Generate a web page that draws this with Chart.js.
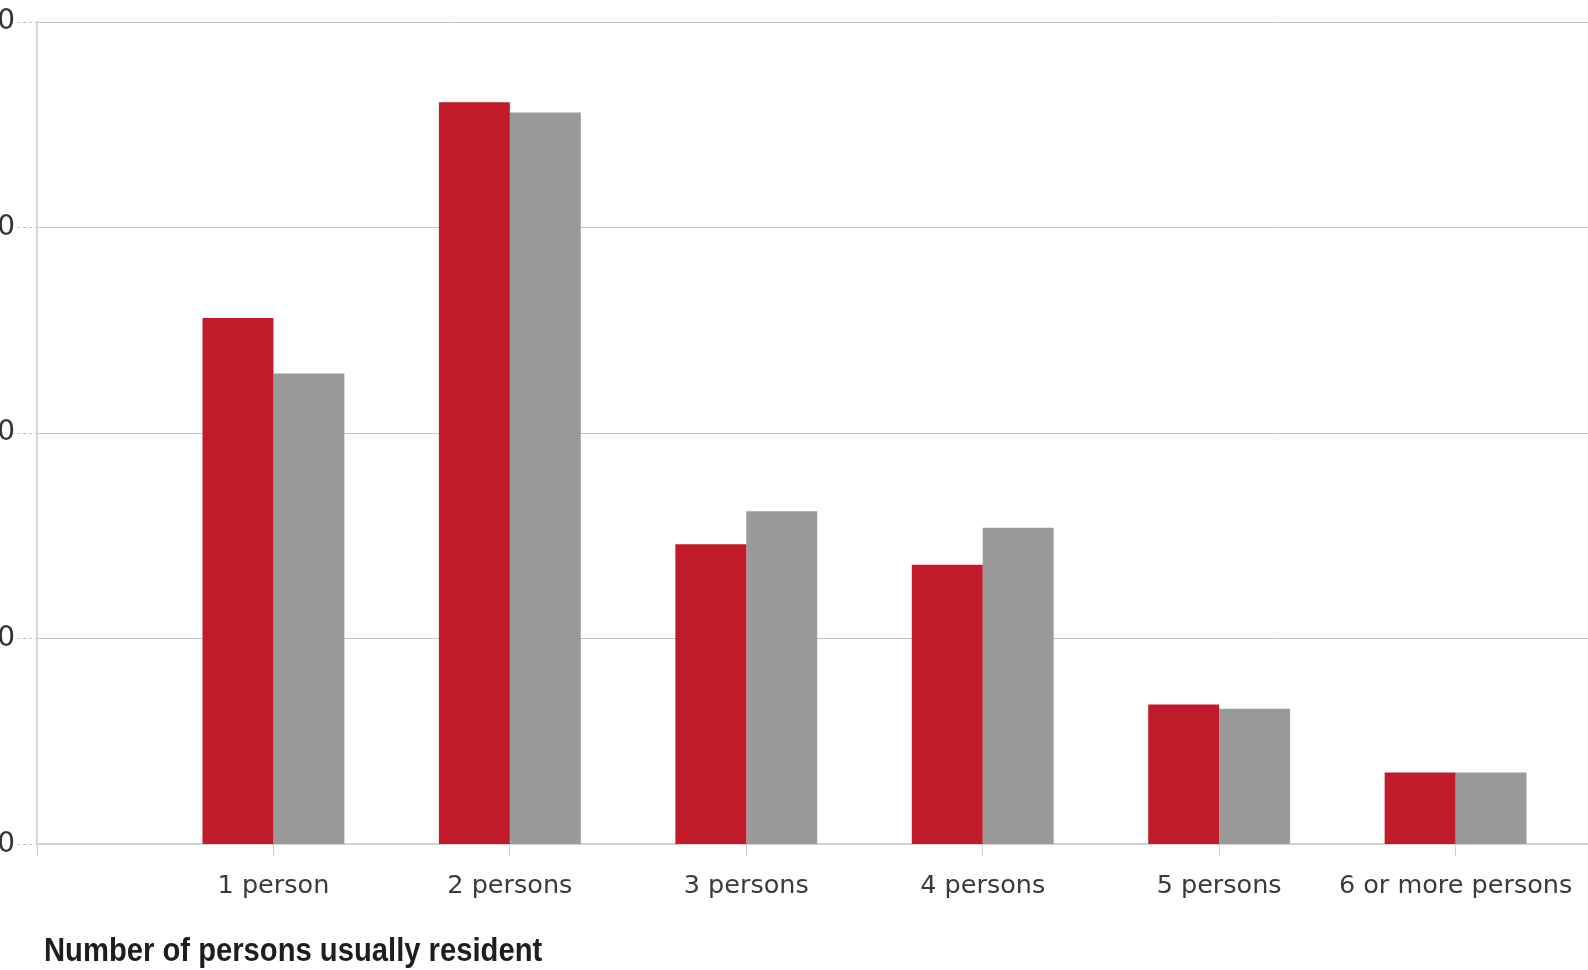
<!DOCTYPE html>
<html>
<head>
<meta charset="utf-8">
<title>Number of persons usually resident</title>
<script src="https://cdn.jsdelivr.net/npm/chart.js@4/dist/chart.umd.min.js"></script>
<style>
  html, body { margin: 0; padding: 0; background: #ffffff; overflow: hidden; width: 1588px; height: 970px; }
  #wrap { position: absolute; left: -43px; top: 0; width: 1750px; height: 970px; }
  canvas { display: block; }
</style>
</head>
<body>
<div id="wrap"><canvas id="chart"></canvas></div>
<script>
// Household size categories
const categories = ['1 person', '2 persons', '3 persons', '4 persons', '5 persons', '6 or more persons'];
// Share of private households (%) for the two series
const seriesA = [25.6, 36.1, 14.6, 13.6, 6.8, 3.5];
const seriesB = [22.9, 35.6, 16.2, 15.4, 6.6, 3.5];
// Value axis ticks
const yTicks = [0, 10, 20, 30, 40];
const axisTitle = 'Number of persons usually resident';

// An empty slot either side of the groups keeps the axis line at a category centre
const labels = [''].concat(categories, ['']);
const pad = arr => [null].concat(arr, [null]);

const Y_AXIS_WIDTH = 80;

// Condensed bold caption under the category axis
const axisCaption = {
  id: 'axisCaption',
  afterDraw(chart) {
    const ctx = chart.ctx;
    const left = chart.chartArea.left + 7;
    const baseline = chart.height - 9;
    ctx.save();
    ctx.font = "bold 33px 'Liberation Sans', Arial, sans-serif";
    ctx.fillStyle = '#1e1e1e';
    ctx.textAlign = 'left';
    ctx.textBaseline = 'alphabetic';
    ctx.translate(left, baseline);
    ctx.scale(0.885, 1);
    ctx.fillText(axisTitle, 0, 0);
    ctx.restore();
  }
};

new Chart(document.getElementById('chart'), {
  type: 'bar',
  data: {
    labels: labels,
    datasets: [
      { label: 'Series A', data: pad(seriesA), backgroundColor: '#c11b2a', borderWidth: 0,
        categoryPercentage: 0.6, barPercentage: 1.0 },
      { label: 'Series B', data: pad(seriesB), backgroundColor: '#9a9a9a', borderWidth: 0,
        categoryPercentage: 0.6, barPercentage: 1.0 }
    ]
  },
  options: {
    responsive: true,
    maintainAspectRatio: false,
    animation: false,
    layout: { padding: { top: 22, right: 0, bottom: 53, left: 0 } },
    plugins: { legend: { display: false }, tooltip: { enabled: false } },
    scales: {
      x: {
        type: 'category',
        offset: false,
        grid: { offset: false, drawOnChartArea: false, drawTicks: true, tickLength: 12, color: '#cfcfcf', lineWidth: 1 },
        border: { display: true, color: '#d2d2d2', width: 2 },
        ticks: {
          autoSkip: false, maxRotation: 0, minRotation: 0, padding: 15,
          color: '#3a3a3a',
          font: { family: 'DejaVu Sans', size: 25.5 }
        }
      },
      y: {
        min: 0, max: 40,
        afterFit: s => { s.width = Y_AXIS_WIDTH; },
        afterBuildTicks: s => { s.ticks = yTicks.map(v => ({ value: v })); },
        grid: { color: '#c4c4c4', lineWidth: 1, borderDash: [3, 3], tickBorderDash: [3, 3], tickLength: 20, tickColor: '#c4c4c4' },
        border: { display: true, color: '#d6d6d6', width: 2 },
        ticks: {
          padding: 2,
          color: '#333333',
          font: { family: 'DejaVu Sans', size: 28 }
        }
      }
    }
  },
  plugins: [axisCaption]
});
</script>
</body>
</html>
